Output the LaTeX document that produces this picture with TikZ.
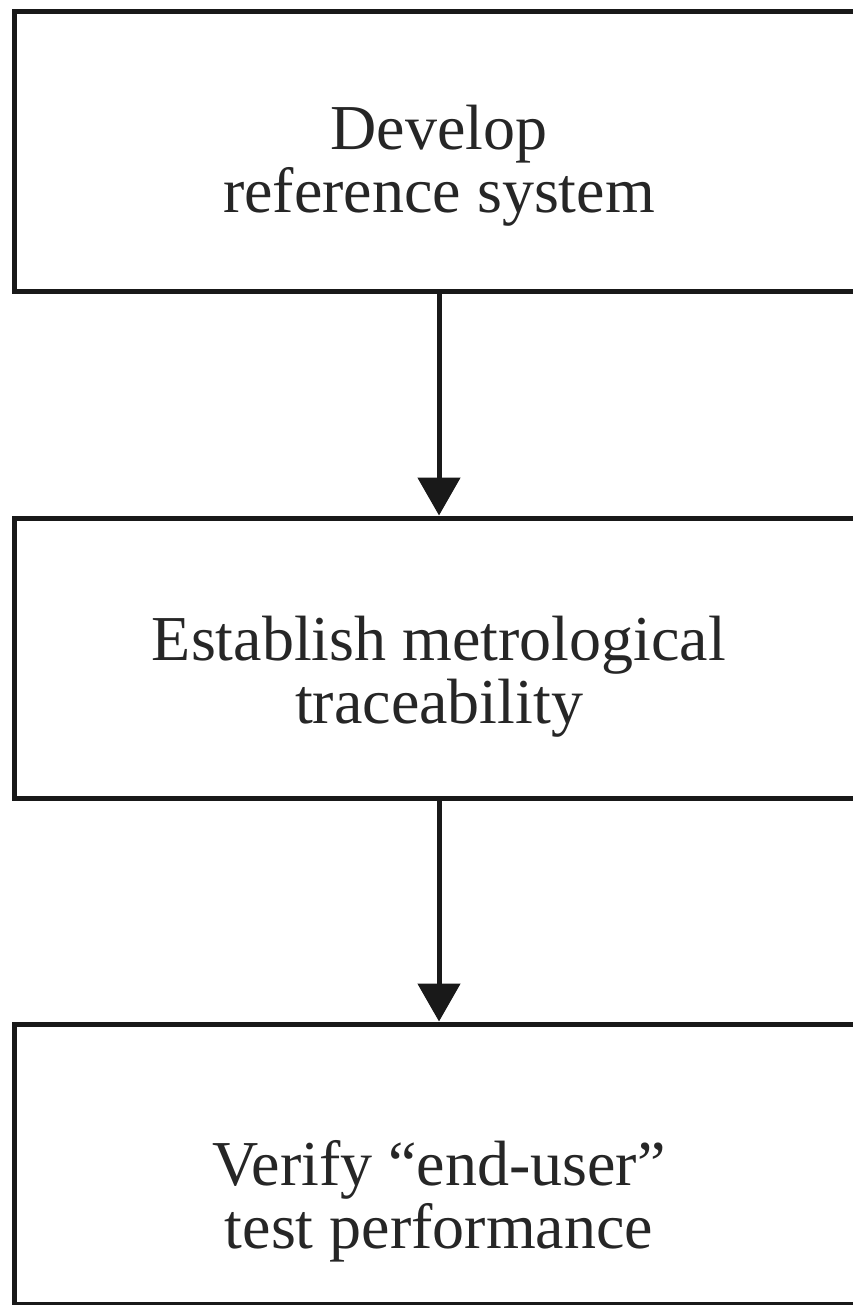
\documentclass[tikz,border=0pt]{standalone}
\usepackage{fontspec}
\setmainfont{Liberation Serif}
\usetikzlibrary{arrows.meta}
\begin{document}
\begin{tikzpicture}[x=1pt,y=-1pt,
  stagebox/.style={draw=black!90, line width=5pt, rectangle, minimum width=849pt, minimum height=280pt, inner sep=0pt},
  stagetext/.style={align=center, text=black!85, font=\fontsize{64}{63}\selectfont, inner sep=0pt},
  flow/.style={draw=black!90, line width=5pt, -{Triangle[length=38pt,width=42pt]}}]
\useasboundingbox (0,0) rectangle (853,1305);
\clip (0,0) rectangle (853,1305);
\fill[white] (0,0) rectangle (853,1305);
\node[stagebox] (b1) at (439,152) {};
\node[stagebox] (b2) at (439,658) {};
\node[stagebox] (b3) at (439,1164) {};
\node[stagetext] (t1) at ([yshift=-14pt]b1.center) {Develop\\reference system};
\node[stagetext] (t2) at ([yshift=-18.5pt]b2.center) {Establish metrological\\traceability};
\node[stagetext] (t3) at ([yshift=-37pt]b3.center) {Verify “end-user”\\test performance};
\draw[flow] (b1.south) -- (b2.north);
\draw[flow] (b2.south) -- (b3.north);
\end{tikzpicture}
\end{document}
